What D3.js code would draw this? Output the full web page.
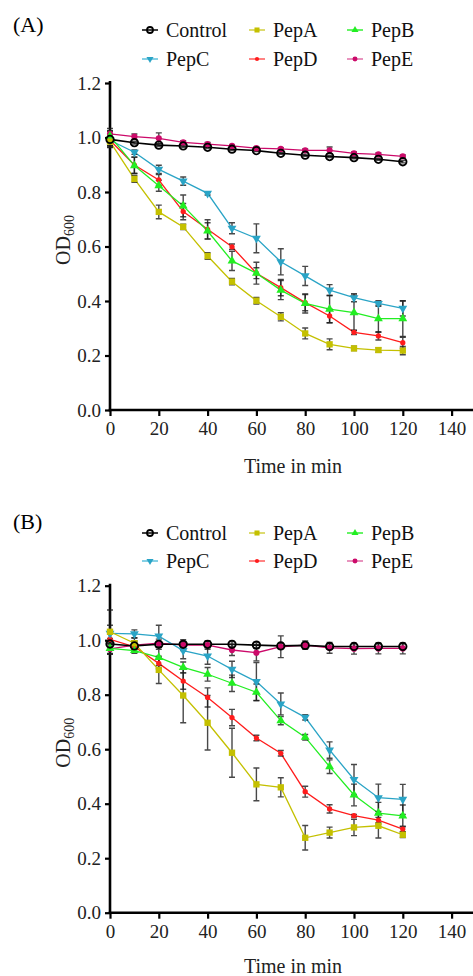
<!DOCTYPE html>
<html>
<head>
<meta charset="utf-8">
<script src="https://cdn.jsdelivr.net/npm/d3@7"></script>
<style>
  body { margin: 0; background: #fff; }
  svg { display: block; }
  text { font-family: "Liberation Serif", "DejaVu Serif", serif; }
</style>
</head>
<body>
<div id="chart"></div>
<script>
// time points (min)
const times = [0, 10, 20, 30, 40, 50, 60, 70, 80, 90, 100, 110, 120];
const xTicks = [0, 20, 40, 60, 80, 100, 120, 140];
const yTicks = [0, 0.2, 0.4, 0.6, 0.8, 1.0, 1.2];
const seriesNames = ['Control', 'PepA', 'PepB', 'PepC', 'PepD', 'PepE'];

// panel A means
const aControl = [0.993, 0.981, 0.972, 0.969, 0.964, 0.957, 0.952, 0.942, 0.935, 0.930, 0.926, 0.920, 0.911];
const aPepA = [0.985, 0.848, 0.727, 0.672, 0.565, 0.471, 0.401, 0.342, 0.281, 0.241, 0.226, 0.220, 0.218];
const aPepB = [1.005, 0.897, 0.823, 0.749, 0.657, 0.547, 0.502, 0.440, 0.391, 0.370, 0.357, 0.335, 0.335];
const aPepC = [0.99, 0.946, 0.883, 0.840, 0.795, 0.667, 0.630, 0.544, 0.492, 0.440, 0.412, 0.391, 0.373];
const aPepD = [0.99, 0.899, 0.844, 0.728, 0.663, 0.599, 0.502, 0.449, 0.394, 0.345, 0.285, 0.272, 0.247];
const aPepE = [1.013, 1.003, 0.997, 0.982, 0.976, 0.969, 0.961, 0.958, 0.953, 0.953, 0.942, 0.938, 0.931];
// panel A error (SD)
const aControlSd = [0.03, 0.005, 0.005, 0.005, 0.005, 0.005, 0.004, 0.004, 0.004, 0.004, 0.004, 0.004, 0.004];
const aPepASd = [0.02, 0.012, 0.025, 0.01, 0.012, 0.012, 0.012, 0.015, 0.02, 0.02, 0.008, 0.008, 0.015];
const aPepBSd = [0.02, 0.03, 0.02, 0.04, 0.03, 0.035, 0.04, 0.035, 0.035, 0.05, 0.065, 0.05, 0.065];
const aPepCSd = [0.02, 0.008, 0.015, 0.015, 0.006, 0.02, 0.053, 0.048, 0.035, 0.02, 0.015, 0.01, 0.028];
const aPepDSd = [0.02, 0.03, 0.02, 0.03, 0.035, 0.01, 0.02, 0.03, 0.03, 0.025, 0.008, 0.015, 0.02];
const aPepESd = [0.02, 0.01, 0.02, 0.006, 0.006, 0.005, 0.005, 0.005, 0.005, 0.012, 0.005, 0.005, 0.005];

// panel B means
const bControl = [0.986, 0.979, 0.985, 0.985, 0.985, 0.985, 0.982, 0.979, 0.981, 0.977, 0.977, 0.977, 0.977];
const bPepA = [1.031, 0.989, 0.891, 0.797, 0.697, 0.587, 0.471, 0.460, 0.275, 0.294, 0.313, 0.319, 0.286];
const bPepB = [0.970, 0.962, 0.937, 0.900, 0.875, 0.842, 0.809, 0.705, 0.644, 0.536, 0.432, 0.365, 0.355];
const bPepC = [1.025, 1.023, 1.015, 0.962, 0.942, 0.893, 0.848, 0.766, 0.717, 0.597, 0.489, 0.422, 0.416];
const bPepD = [1.003, 0.976, 0.915, 0.850, 0.790, 0.716, 0.641, 0.585, 0.444, 0.381, 0.356, 0.340, 0.307];
const bPepE = [0.968, 0.982, 0.989, 0.982, 0.982, 0.964, 0.954, 0.976, 0.982, 0.972, 0.969, 0.970, 0.970];
// panel B error (SD)
const bControlSd = [0.02, 0.01, 0.01, 0.01, 0.01, 0.01, 0.01, 0.01, 0.01, 0.01, 0.01, 0.01, 0.01];
const bPepASd = [0.08, 0.02, 0.05, 0.1, 0.1, 0.09, 0.06, 0.035, 0.045, 0.02, 0.03, 0.045, 0.01];
const bPepBSd = [0.02, 0.01, 0.03, 0.02, 0.025, 0.03, 0.03, 0.015, 0.01, 0.025, 0.04, 0.04, 0.04];
const bPepCSd = [0.03, 0.015, 0.04, 0.03, 0.03, 0.03, 0.07, 0.04, 0.01, 0.03, 0.055, 0.05, 0.055];
const bPepDSd = [0.02, 0.02, 0.02, 0.03, 0.035, 0.03, 0.01, 0.01, 0.02, 0.015, 0.005, 0.01, 0.01];
const bPepESd = [0.02, 0.015, 0.015, 0.02, 0.015, 0.02, 0.03, 0.04, 0.015, 0.02, 0.02, 0.02, 0.02];

const colors = { Control: '#000000', PepA: '#c4c000', PepB: '#22ee22', PepC: '#2aa4c6', PepD: '#ff1c1c', PepE: '#cc0a6a' };
const legendLine = { Control: '#000000', PepA: '#d2cf40', PepB: '#33f033', PepC: '#5cc0dc', PepD: '#ff5a5a', PepE: '#e070a8' };
const symbols = {
  Control: { type: d3.symbolCircle, size: 44, open: true },
  PepA: { type: d3.symbolSquare, size: 40 },
  PepB: { type: d3.symbolTriangle, size: 34 },
  PepC: { type: d3.symbolTriangle, size: 34, flip: true },
  PepD: { type: d3.symbolCircle, size: 22 },
  PepE: { type: d3.symbolCircle, size: 30 }
};

const FONT = '"Liberation Serif", "DejaVu Serif", serif';
const W = 473, H = 976;
const svg = d3.select('#chart').append('svg').attr('width', W).attr('height', H)
  .attr('font-family', FONT);

function buildSeries(means, sds) {
  return seriesNames.map((name, i) => ({
    name,
    points: times.map((t, j) => ({ t, v: means[i][j], sd: sds[i][j] }))
  }));
}

function drawSymbol(g, name, cx, cy, k) {
  const sym = symbols[name];
  const p = g.append('path')
    .attr('d', d3.symbol().type(sym.type).size(sym.size * k * k)())
    .attr('transform', `translate(${cx},${cy})${sym.flip ? ' rotate(180)' : ''}`);
  if (sym.open) p.attr('fill', 'none').attr('stroke', colors[name]).attr('stroke-width', 1.8);
  else p.attr('fill', colors[name]);
}

function drawPanel(cfg) {
  const g = svg.append('g');
  const x = d3.scaleLinear().domain([0, 150]).range([110, 476]);
  const y = d3.scaleLinear().domain([0, 1.2]).range([cfg.y0, cfg.y0 - 327]);

  // panel tag
  g.append('text').attr('x', 13).attr('y', cfg.tagY).attr('font-size', 22)
    .attr('font-family', FONT).text(cfg.tag);

  // legend
  const cols = [150, 257, 355];
  seriesNames.forEach((name, i) => {
    const cx = cols[i % 3];
    const cy = cfg.legendY[Math.floor(i / 3)];
    const lg = g.append('g');
    lg.append('line').attr('x1', cx - 8).attr('x2', cx + 8).attr('y1', cy).attr('y2', cy)
      .attr('stroke', legendLine[name]).attr('stroke-width', 1.5);
    drawSymbol(lg, name, cx, cy, 0.8);
    lg.append('text').attr('x', cx + 16).attr('y', cy).attr('dy', '0.35em')
      .attr('font-family', FONT).attr('font-size', 20).attr('fill', '#111').text(name);
  });

  // axes
  const xAxis = g.append('g').attr('transform', `translate(0,${cfg.y0})`)
    .call(d3.axisBottom(x).tickValues(xTicks).tickSize(6).tickSizeOuter(0).tickPadding(6));
  const yAxis = g.append('g').attr('transform', 'translate(110,0)')
    .call(d3.axisLeft(y).tickValues(yTicks).tickFormat(d3.format('.1f')).tickSize(5).tickSizeOuter(0).tickPadding(4));
  [xAxis, yAxis].forEach(ax => {
    ax.attr('font-family', FONT);
    ax.select('.domain').attr('stroke', '#000').attr('stroke-width', 2.6);
    ax.selectAll('.tick line').attr('stroke', '#000').attr('stroke-width', 2.2);
    ax.selectAll('.tick text').attr('fill', '#222').attr('font-size', 19).attr('font-family', FONT);
  });
  xAxis.select('.domain').attr('d', `M${x(0) - 1.3},0H473`);
  yAxis.select('.domain').attr('d', `M0,${y(0) + 1.3}V${y(1.2) - 2}`);

  // axis titles
  g.append('text').attr('x', 293).attr('y', cfg.y0 + cfg.titleDy).attr('text-anchor', 'middle')
    .attr('font-family', FONT).attr('font-size', 20).attr('fill', '#222').text('Time in min');
  const yl = g.append('text').attr('transform', `translate(70,${cfg.y0 - 170}) rotate(-90)`)
    .attr('text-anchor', 'middle').attr('font-family', FONT).attr('font-size', 20).attr('fill', '#222');
  yl.append('tspan').text('OD');
  yl.append('tspan').attr('font-size', 14).attr('dy', 4).text('600');

  const series = cfg.series.slice().reverse();
  // lines
  const line = d3.line().x(d => x(d.t)).y(d => y(d.v));
  series.forEach(s => {
    g.append('path').datum(s.points).attr('d', line).attr('fill', 'none')
      .attr('stroke', colors[s.name]).attr('stroke-width', s.name === 'Control' ? 1.6 : 1.3);
  });
  // error bars
  series.forEach(s => {
    s.points.forEach(p => {
      const y1 = y(p.v + p.sd), y2 = y(p.v - p.sd), cx = x(p.t);
      g.append('path')
        .attr('d', `M${cx},${y1}V${y2}M${cx - 3},${y1}H${cx + 3}M${cx - 3},${y2}H${cx + 3}`)
        .attr('stroke', '#1a1a1a').attr('stroke-width', 1.4).attr('fill', 'none').attr('opacity', 0.8);
    });
  });
  // markers
  series.forEach(s => {
    s.points.forEach(p => drawSymbol(g, s.name, x(p.t), y(p.v), 1));
  });
}

drawPanel({
  tag: '(A)', tagY: 32, legendY: [30, 59], y0: 410, titleDy: 63,
  series: buildSeries([aControl, aPepA, aPepB, aPepC, aPepD, aPepE],
    [aControlSd, aPepASd, aPepBSd, aPepCSd, aPepDSd, aPepESd])
});
drawPanel({
  tag: '(B)', tagY: 529, legendY: [533, 561], y0: 912.7, titleDy: 60,
  series: buildSeries([bControl, bPepA, bPepB, bPepC, bPepD, bPepE],
    [bControlSd, bPepASd, bPepBSd, bPepCSd, bPepDSd, bPepESd])
});
</script>
</body>
</html>
